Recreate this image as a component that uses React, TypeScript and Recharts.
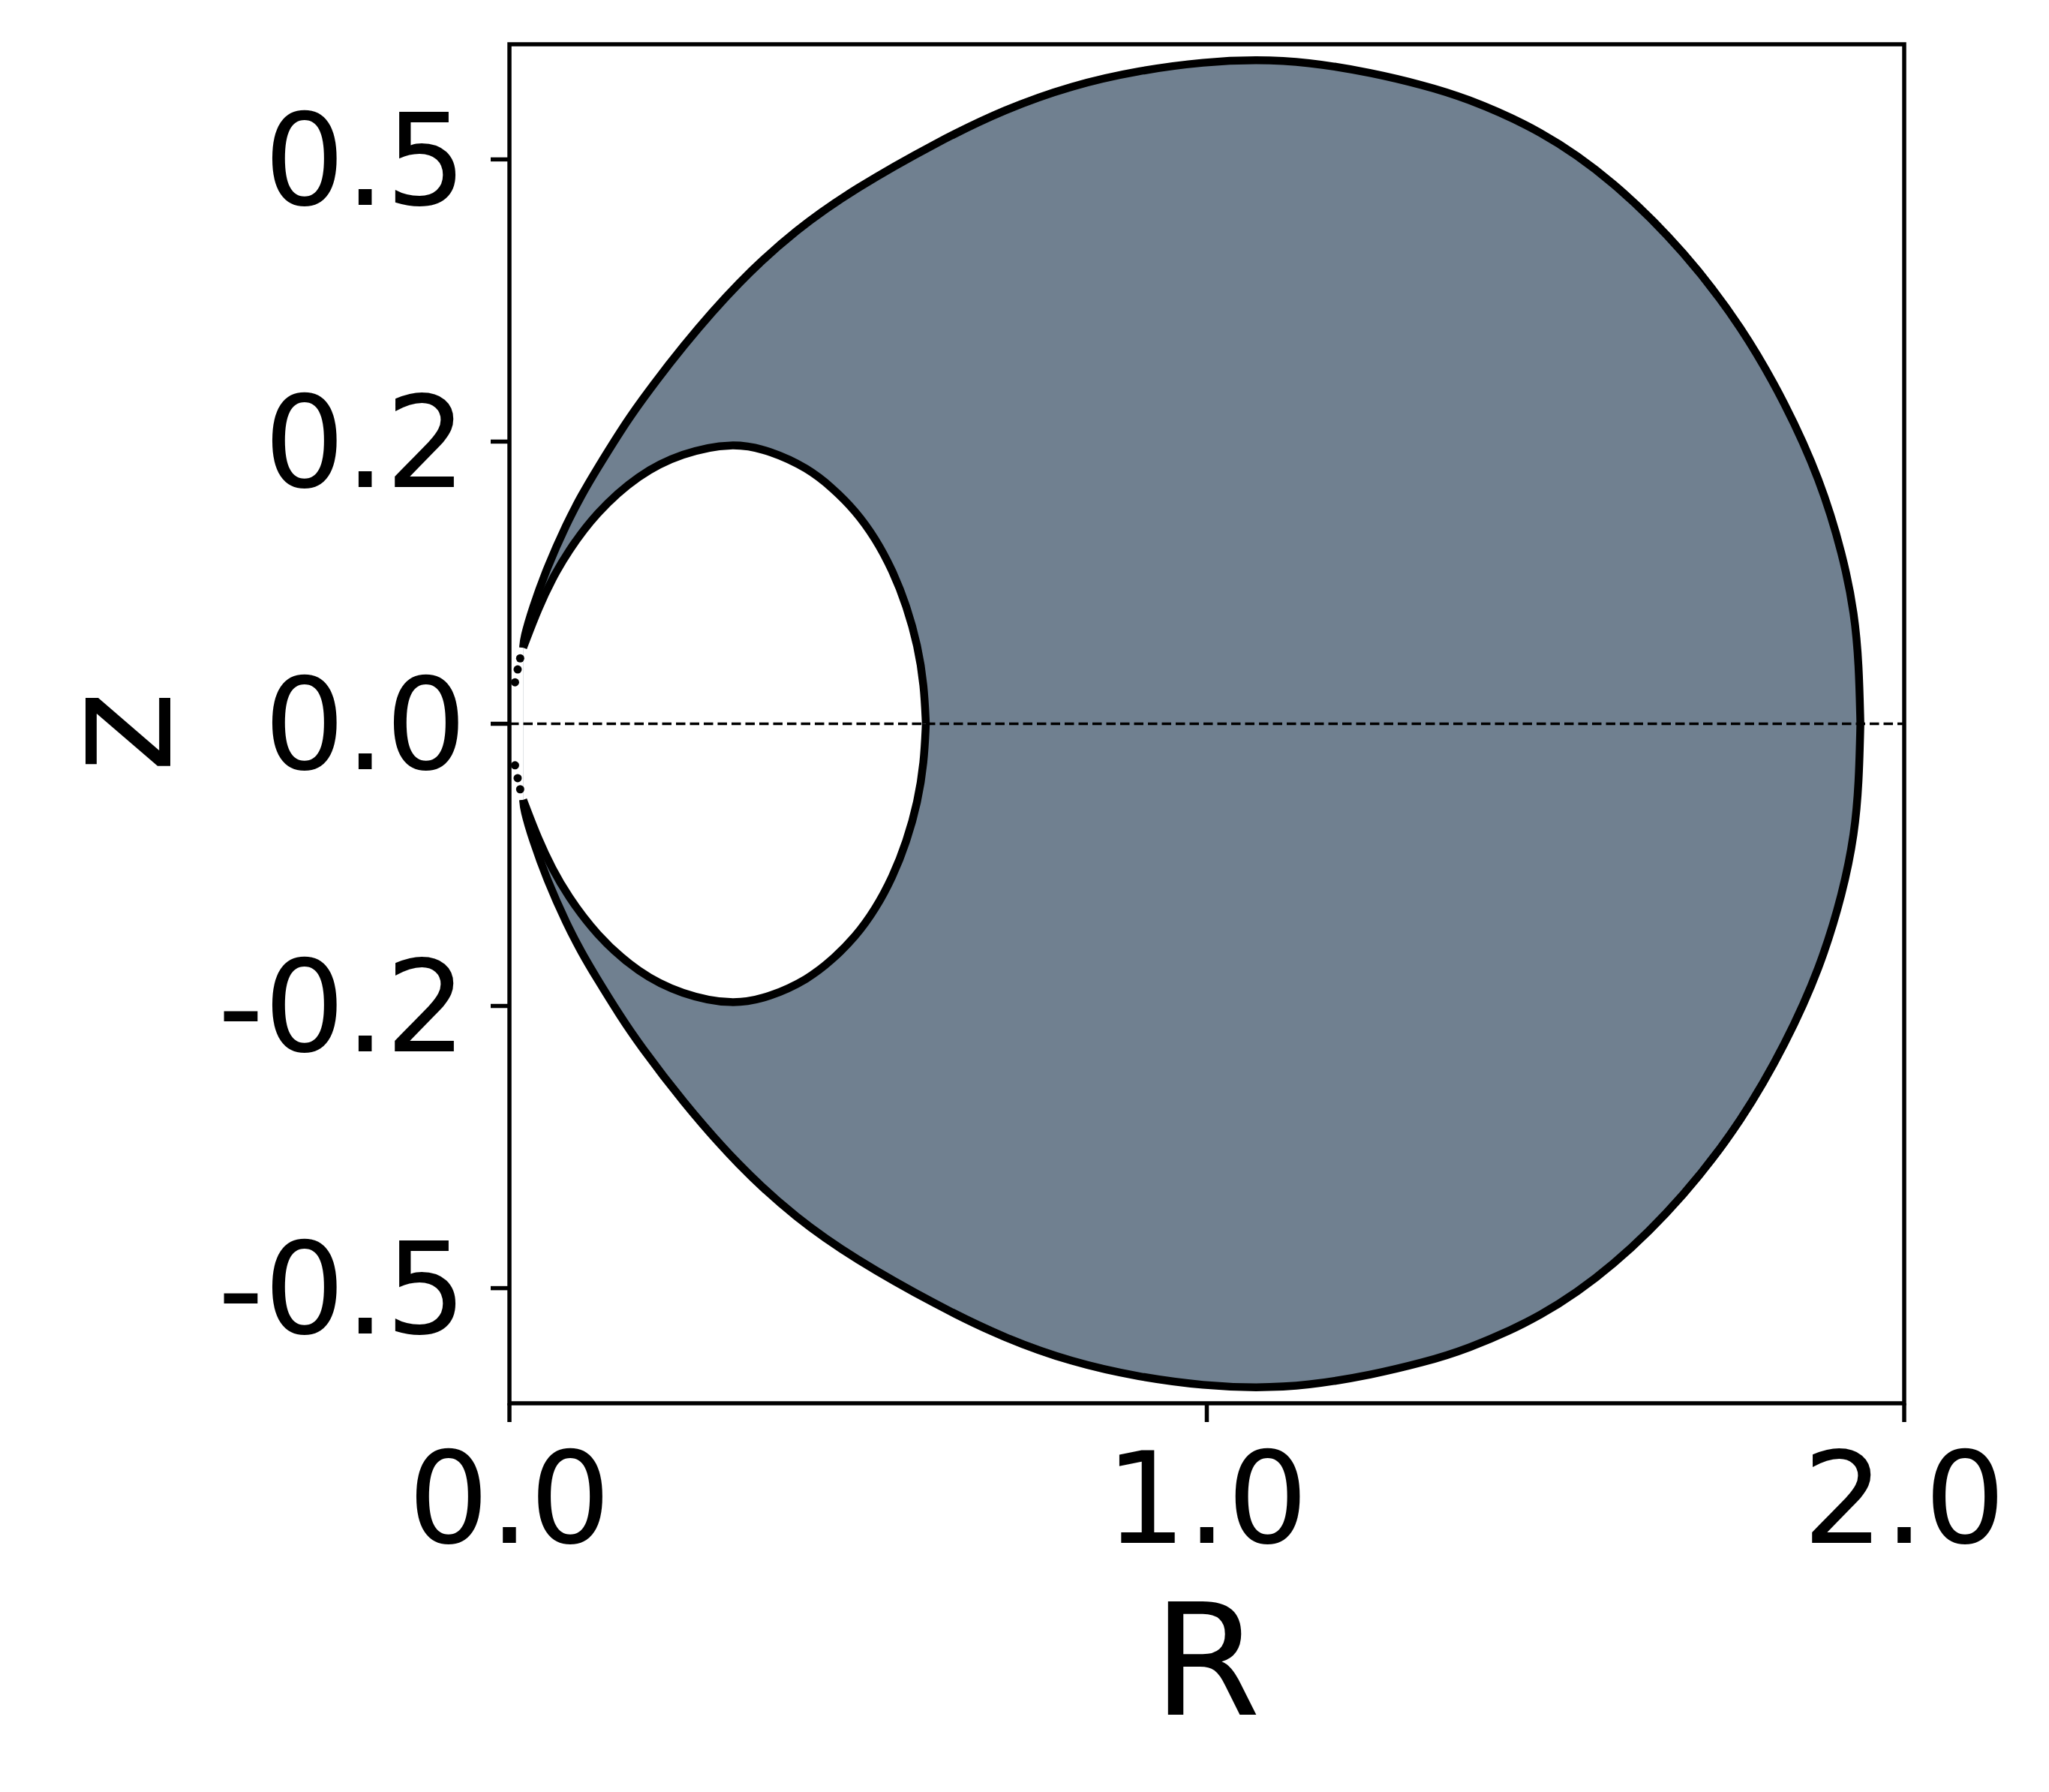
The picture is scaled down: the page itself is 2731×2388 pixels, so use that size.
import {
  ComposedChart,
  Area,
  Scatter,
  XAxis,
  YAxis,
  ReferenceLine,
  ReferenceArea,
} from "recharts";

// outer boundary, upper half (lower half is the mirror image)
const outerR = [
  0.0197, 0.0205, 0.0329, 0.0536, 0.0823, 0.103, 0.1235, 0.1606, 0.1852,
  0.247, 0.3294, 0.4117, 0.494, 0.6143, 0.7104, 0.8065, 0.9025, 0.9985,
  1.0706, 1.1427, 1.2387, 1.3107, 1.3674, 1.4801, 1.5831, 1.6861, 1.7684,
  1.8301, 1.8795, 1.9124, 1.929, 1.9351, 1.9372,
];
const outerZ = [
  0.0539, 0.0606, 0.0819, 0.1103, 0.1422, 0.1617, 0.179, 0.2085, 0.2264,
  0.2671, 0.3139, 0.3506, 0.379, 0.4126, 0.4356, 0.4525, 0.4631, 0.4693,
  0.4707, 0.4693, 0.4613, 0.4525, 0.4445, 0.4207, 0.3849, 0.3342, 0.2805,
  0.2268, 0.173, 0.1193, 0.0775, 0.0417, 0,
];

// inner boundary, upper half
const innerR = [
  0.0197, 0.0412, 0.0618, 0.0823, 0.1235, 0.1852, 0.247, 0.32, 0.3741,
  0.4279, 0.4637, 0.496, 0.5247, 0.5497, 0.5695, 0.5856, 0.5946, 0.5971,
];
const innerZ = [
  0.0539, 0.0819, 0.1032, 0.1209, 0.1493, 0.1768, 0.1919, 0.1995, 0.1936,
  0.1812, 0.167, 0.1511, 0.1316, 0.1085, 0.0837, 0.0553, 0.027, 0,
];

// loose points near the cusp
const dotR = [0.008, 0.0118, 0.0154];
const dotZ = [0.0294, 0.0385, 0.0464];

const xTicks = [0, 1, 2];
const xTickLabels = ["0.0", "1.0", "2.0"];
const yTicks = [-0.4, -0.2, 0, 0.2, 0.4];
const yTickLabels = ["-0.5", "-0.2", "0.0", "0.2", "0.5"];

const xDomain: [number, number] = [0, 2];
const yDomain: [number, number] = [-0.4816, 0.4816];

type Row = {
  R: number;
  outer: [number, number] | null;
  inner: [number, number] | null;
};

const rowMap = new Map<number, Row>();
outerR.forEach((r, i) => {
  const row = rowMap.get(r) ?? { R: r, outer: null, inner: null };
  row.outer = [-outerZ[i], outerZ[i]];
  rowMap.set(r, row);
});
innerR.forEach((r, i) => {
  const row = rowMap.get(r) ?? { R: r, outer: null, inner: null };
  row.inner = [-innerZ[i], innerZ[i]];
  rowMap.set(r, row);
});
const rows = [...rowMap.values()].sort((a, b) => a.R - b.R);

const dots = dotR.flatMap((r, i) => [
  { R: r, z: dotZ[i] },
  { R: r, z: -dotZ[i] },
]);

const FONT = '"DejaVu Sans", sans-serif';
const pick = (ticks: number[], labels: string[]) => (v: number) => {
  const i = ticks.findIndex((t) => Math.abs(t - v) < 1e-9);
  return i < 0 ? String(v) : labels[i];
};

export default function App() {
  return (
    <ComposedChart
      width={2715}
      height={2360}
      data={rows}
      margin={{ top: 51, right: 185, bottom: 0, left: 0 }}
    >
      <XAxis
        type="number"
        dataKey="R"
        domain={xDomain}
        ticks={xTicks}
        interval={0}
        allowDataOverflow
        tickFormatter={pick(xTicks, xTickLabels)}
        axisLine={false}
        tickLine={{ stroke: "#000", strokeWidth: 5.5 }}
        tickSize={25}
        tickMargin={40}
        height={498}
        tick={{ fill: "#000", fontSize: 170, fontFamily: FONT }}
        label={{
          value: "R",
          position: "insideTop",
          offset: 268,
          fill: "#000",
          fontSize: 207,
          fontFamily: FONT,
        }}
      />
      <YAxis
        type="number"
        domain={yDomain}
        ticks={yTicks}
        interval={0}
        allowDataOverflow
        tickFormatter={pick(yTicks, yTickLabels)}
        axisLine={false}
        tickLine={{ stroke: "#000", strokeWidth: 5.5 }}
        tickSize={25}
        tickMargin={32}
        width={671}
        tick={{ fill: "#000", fontSize: 170, fontFamily: FONT }}
        label={{
          value: "z",
          angle: -90,
          position: "center",
          dx: -190,
          dy: 11,
          fill: "#000",
          fontSize: 207,
          fontFamily: FONT,
        }}
      />
      <Area
        type="basis"
        dataKey="outer"
        connectNulls
        fill="#708090"
        fillOpacity={1}
        stroke="#000"
        strokeWidth={10.5}
        dot={false}
        activeDot={false}
        isAnimationActive={false}
      />
      <Area
        type="basis"
        dataKey="inner"
        connectNulls
        fill="#ffffff"
        fillOpacity={1}
        stroke="#000"
        strokeWidth={10.5}
        dot={false}
        activeDot={false}
        isAnimationActive={false}
      />
      <ReferenceLine
        y={0}
        stroke="#000"
        strokeWidth={3.5}
        strokeDasharray="12.5 6"
      />
      <Scatter
        data={dots}
        dataKey="z"
        isAnimationActive={false}
        shape={(p: any) => <circle cx={p.cx} cy={p.cy} r={5.5} fill="#000" />}
      />
      <ReferenceArea
        x1={xDomain[0]}
        x2={xDomain[1]}
        y1={yDomain[0]}
        y2={yDomain[1]}
        fill="none"
        stroke="#000"
        strokeWidth={5.5}
      />
    </ComposedChart>
  );
}
